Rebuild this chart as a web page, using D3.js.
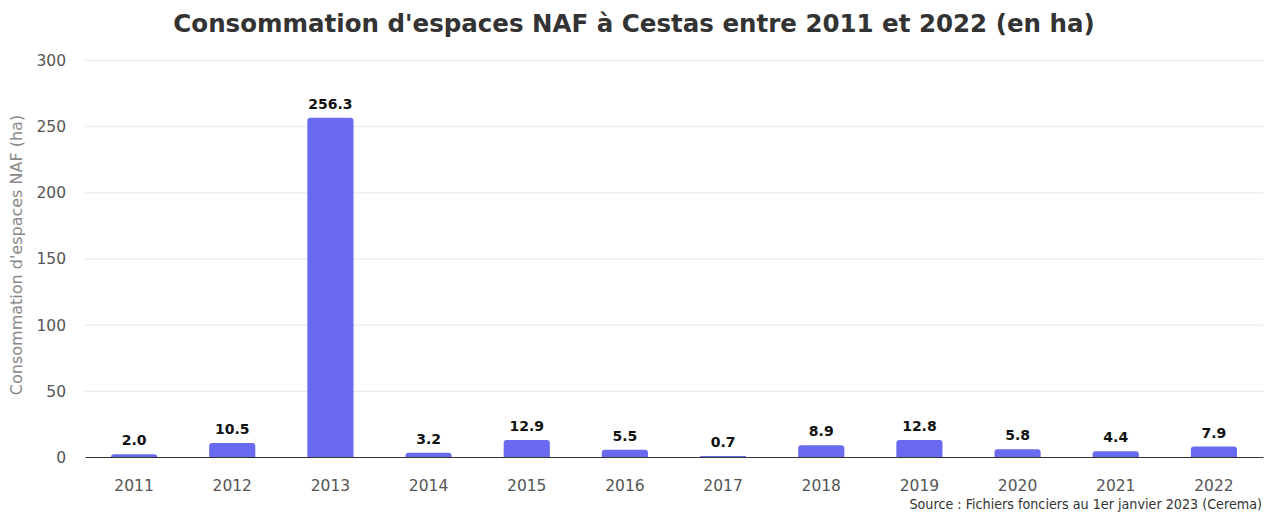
<!DOCTYPE html>
<html>
<head>
<meta charset="utf-8">
<script src="https://cdn.jsdelivr.net/npm/d3@7"></script>
<style>
  body { margin: 0; background: #fff; }
  svg { display: block; font-family: "DejaVu Sans", sans-serif; }
</style>
</head>
<body>
<svg id="chart" width="1268" height="514"></svg>
<script>
// Consommation d'espaces NAF par année (ha)
const years = ["2011", "2012", "2013", "2014", "2015", "2016", "2017", "2018", "2019", "2020", "2021", "2022"];
const values = [2.0, 10.5, 256.3, 3.2, 12.9, 5.5, 0.7, 8.9, 12.8, 5.8, 4.4, 7.9];
const yTicks = [0, 50, 100, 150, 200, 250, 300];

const svg = d3.select("#chart");
const W = 1268, H = 514;
const margin = { left: 85, right: 5, top: 60, bottom: 57 };

const x = d3.scaleBand().domain(years).range([margin.left, W - margin.right]).paddingInner(0.53).paddingOuter(0.265);
const y = d3.scaleLinear().domain([0, 300]).range([H - margin.bottom, margin.top]);

// Title
svg.append("text")
  .attr("x", 634).attr("y", 32)
  .attr("text-anchor", "middle")
  .attr("font-size", 24.5).attr("font-weight", "bold").attr("fill", "#333")
  .text("Consommation d'espaces NAF à Cestas entre 2011 et 2022 (en ha)");

// Grid lines
svg.append("g").selectAll("line").data(yTicks.filter(d => d > 0)).join("line")
  .attr("x1", margin.left).attr("x2", W - margin.right)
  .attr("y1", d => y(d) + 0.5).attr("y2", d => y(d) + 0.5)
  .attr("stroke", "#e6e6e6").attr("stroke-width", 1);

// Y axis
const yAxis = svg.append("g")
  .attr("transform", `translate(${margin.left - 19},0)`)
  .call(d3.axisLeft(y).tickValues(yTicks).tickSize(0).tickPadding(0));
yAxis.select(".domain").remove();
yAxis.selectAll("text").attr("font-size", 15.5).attr("fill", "#555").attr("font-family", "DejaVu Sans").attr("dy", "0.35em");

// Y axis title
svg.append("text")
  .attr("transform", `translate(22,255) rotate(-90)`)
  .attr("text-anchor", "middle")
  .attr("font-size", 16).attr("fill", "#888")
  .text("Consommation d'espaces NAF (ha)");

// Bars
const r = 3;
svg.append("g").selectAll("path").data(values).join("path")
  .attr("fill", "#6a6af0")
  .attr("d", (d, i) => {
    const x0 = x(years[i]), w = x.bandwidth();
    const y0 = y(d), y1 = y(0);
    const rr = Math.min(r, (y1 - y0));
    return `M${x0},${y1} V${y0 + rr} Q${x0},${y0} ${x0 + rr},${y0} H${x0 + w - rr} Q${x0 + w},${y0} ${x0 + w},${y0 + rr} V${y1} Z`;
  });

// Value labels
svg.append("g").selectAll("text").data(values).join("text")
  .attr("x", (d, i) => x(years[i]) + x.bandwidth() / 2)
  .attr("y", d => y(d) - 9)
  .attr("text-anchor", "middle")
  .attr("font-size", 14).attr("font-weight", "bold").attr("fill", "#111")
  .text(d => d.toFixed(1));

// X axis
const xAxis = svg.append("g")
  .attr("transform", `translate(0,${y(0)})`)
  .call(d3.axisBottom(x).tickSize(0).tickPadding(23));
xAxis.select(".domain").attr("stroke", "#333").attr("stroke-width", 1);
xAxis.selectAll("text").attr("font-size", 15.5).attr("fill", "#555").attr("font-family", "DejaVu Sans").attr("dy", "0.71em");

// Source
svg.append("text")
  .attr("x", 1262).attr("y", 509)
  .attr("text-anchor", "end")
  .attr("font-size", 14.2).attr("fill", "#333")
  .attr("font-family", "DejaVu Sans Condensed, DejaVu Sans")
  .attr("font-stretch", "condensed")
  .text("Source : Fichiers fonciers au 1er janvier 2023 (Cerema)");
</script>
</body>
</html>
